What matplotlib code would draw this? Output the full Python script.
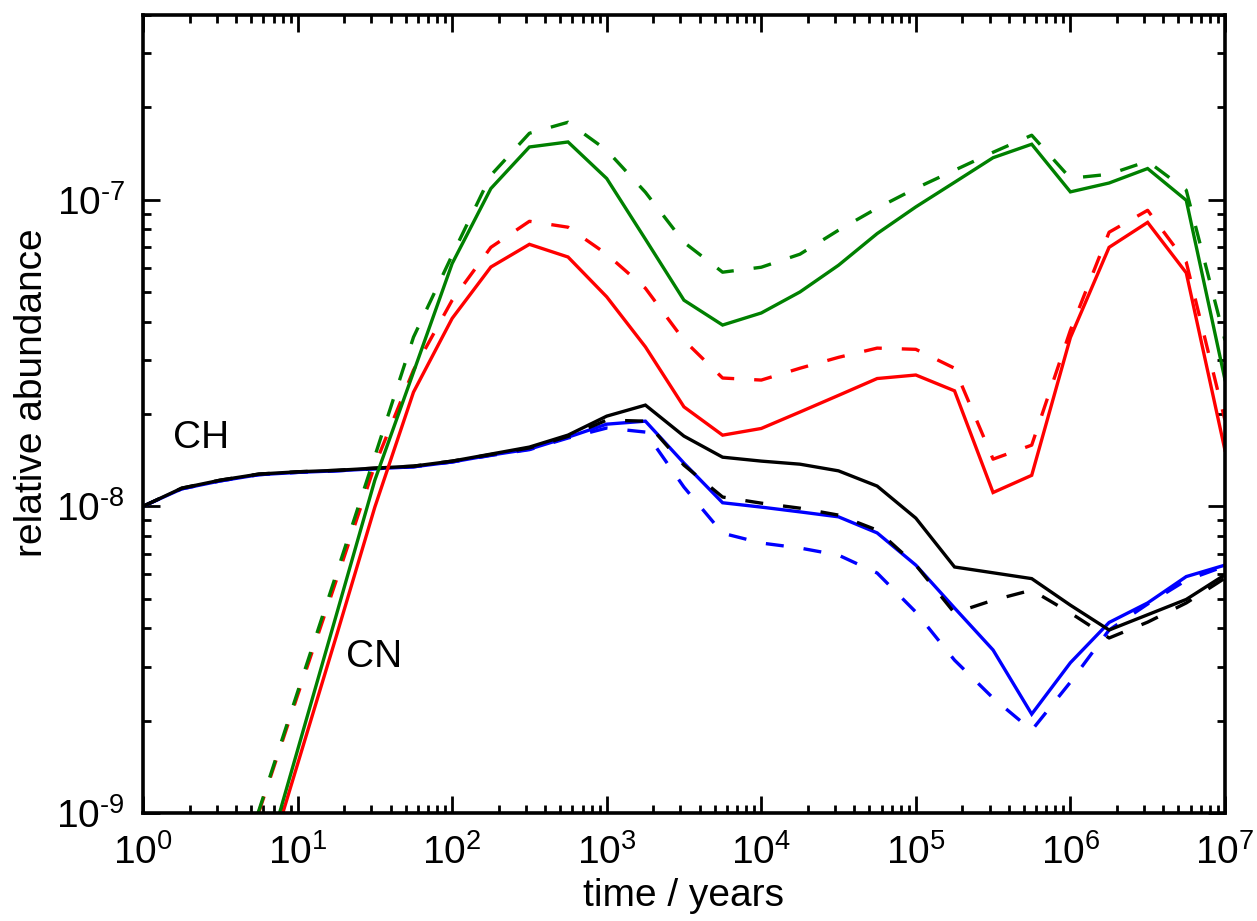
import matplotlib

matplotlib.use('Agg')
from matplotlib import pyplot as plt
from matplotlib.axes import Axes
from matplotlib.figure import Figure
from matplotlib.ticker import FuncFormatter, LogLocator, NullFormatter
import numpy as np

# time grid (years), quarter-decade steps
time: list[float] = [1.0, 1.78, 3.16, 5.62, 10.0, 17.8, 31.6, 56.2, 100.0, 178.0, 316.0, 562.0, 1.0e3, 1.78e3,
                     3.16e3, 5.62e3, 1.0e4, 1.78e4, 3.16e4, 5.62e4, 1.0e5, 1.78e5, 3.16e5, 5.62e5, 1.0e6, 1.78e6,
                     3.16e6, 5.62e6, 1.0e7]

# CH abundances
ch_black: list[float] = [1.00e-8, 1.146e-8, 1.217e-8, 1.274e-8, 1.296e-8, 1.31e-8, 1.332e-8, 1.352e-8, 1.404e-8,
                         1.48e-8, 1.56e-8, 1.707e-8, 1.968e-8, 2.138e-8, 1.694e-8, 1.446e-8, 1.404e-8, 1.372e-8,
                         1.305e-8, 1.164e-8, 9.15e-9, 6.34e-9, 6.07e-9, 5.81e-9, 4.76e-9, 3.95e-9, 4.43e-9, 4.97e-9,
                         5.98e-9]
ch_black_dash: list[float] = [1.00e-8, 1.146e-8, 1.217e-8, 1.274e-8, 1.296e-8, 1.31e-8, 1.332e-8, 1.352e-8,
                              1.404e-8, 1.475e-8, 1.55e-8, 1.69e-8, 1.91e-8, 1.895e-8, 1.362e-8, 1.072e-8, 1.024e-8,
                              9.86e-9, 9.36e-9, 8.36e-9, 6.43e-9, 4.49e-9, 4.94e-9, 5.33e-9, 4.49e-9, 3.72e-9,
                              4.19e-9, 4.84e-9, 5.83e-9]
ch_blue: list[float] = [1.00e-8, 1.14e-8, 1.21e-8, 1.268e-8, 1.29e-8, 1.305e-8, 1.326e-8, 1.345e-8, 1.395e-8,
                        1.469e-8, 1.536e-8, 1.68e-8, 1.853e-8, 1.895e-8, 1.383e-8, 1.027e-8, 9.94e-9, 9.59e-9,
                        9.24e-9, 8.19e-9, 6.43e-9, 4.66e-9, 3.40e-9, 2.10e-9, 3.09e-9, 4.18e-9, 4.84e-9, 5.90e-9,
                        6.43e-9]
ch_blue_dash: list[float] = [1.00e-8, 1.14e-8, 1.21e-8, 1.268e-8, 1.29e-8, 1.305e-8, 1.326e-8, 1.345e-8, 1.395e-8,
                             1.465e-8, 1.53e-8, 1.67e-8, 1.80e-8, 1.746e-8, 1.155e-8, 8.17e-9, 7.59e-9, 7.31e-9,
                             6.93e-9, 6.06e-9, 4.52e-9, 3.15e-9, 2.37e-9, 1.86e-9, 2.67e-9, 3.95e-9, 4.80e-9, 5.74e-9,
                             6.38e-9]

# CN abundances
cn_green: list[float] = [2.7e-11, 7.6e-11, 2.1e-10, 5.83e-10, 1.604e-9, 4.42e-9, 1.217e-8, 2.737e-8, 6.19e-8,
                         1.087e-7, 1.485e-7, 1.542e-7, 1.172e-7, 7.43e-8, 4.70e-8, 3.90e-8, 4.27e-8, 5.00e-8,
                         6.11e-8, 7.75e-8, 9.47e-8, 1.139e-7, 1.37e-7, 1.516e-7, 1.06e-7, 1.133e-7, 1.263e-7,
                         9.95e-8, 2.59e-8]
cn_green_dash: list[float] = [6e-11, 1.6e-10, 4.2e-10, 1.02e-9, 2.48e-9, 6.01e-9, 1.457e-8, 3.56e-8, 6.59e-8,
                              1.201e-7, 1.646e-7, 1.788e-7, 1.449e-7, 1.057e-7, 7.26e-8, 5.80e-8, 6.02e-8, 6.64e-8,
                              7.95e-8, 9.38e-8, 1.089e-7, 1.247e-7, 1.427e-7, 1.622e-7, 1.174e-7, 1.21e-7, 1.334e-7,
                              1.073e-7, 3.48e-8]
cn_red: list[float] = [2.5e-11, 7e-11, 2.0e-10, 5.53e-10, 1.444e-9, 3.77e-9, 9.94e-9, 2.356e-8, 4.10e-8, 6.03e-8,
                       7.15e-8, 6.50e-8, 4.82e-8, 3.31e-8, 2.11e-8, 1.706e-8, 1.794e-8, 2.03e-8, 2.30e-8, 2.61e-8,
                       2.68e-8, 2.38e-8, 1.109e-8, 1.262e-8, 3.55e-8, 6.99e-8, 8.43e-8, 5.77e-8, 1.525e-8]
cn_red_dash: list[float] = [6e-11, 1.6e-10, 4.1e-10, 1.008e-9, 2.42e-9, 5.74e-9, 1.362e-8, 2.78e-8, 4.70e-8,
                            6.99e-8, 8.50e-8, 8.13e-8, 6.64e-8, 5.14e-8, 3.48e-8, 2.62e-8, 2.58e-8, 2.82e-8, 3.06e-8,
                            3.28e-8, 3.25e-8, 2.82e-8, 1.425e-8, 1.583e-8, 3.75e-8, 7.83e-8, 9.23e-8, 6.25e-8,
                            1.91e-8]

plt.rcParams['font.family'] = ['Liberation Sans', 'DejaVu Sans']
plt.rcParams['mathtext.fontset'] = 'custom'
plt.rcParams['mathtext.rm'] = 'Liberation Sans'
plt.rcParams['mathtext.it'] = 'Liberation Sans:italic'
plt.rcParams['mathtext.bf'] = 'Liberation Sans:bold'

LW: float = 2.4
DASH: tuple[float, float] = (5.4, 6.0)


def power_label(value: float, pos: int) -> str:
    exponent: int = int(round(np.log10(value)))
    sign: str = '\u2010' if exponent < 0 else ''
    return f'$\\mathdefault{{10^{{{sign}{abs(exponent)}}}}}$'


fig: Figure = plt.figure(figsize=(12.57, 9.21), dpi=100)
ax: Axes = fig.add_axes((0.1138, 0.1173, 0.8607, 0.8664))

curves = [
    (ch_blue_dash, '#0000ff', True),
    (ch_blue, '#0000ff', False),
    (ch_black_dash, '#000000', True),
    (ch_black, '#000000', False),
    (cn_red_dash, '#ff0000', True),
    (cn_red, '#ff0000', False),
    (cn_green_dash, '#008000', True),
    (cn_green, '#008000', False),
]
for values, color, dashed in curves:
    line, = ax.plot(time, values, color=color, linewidth=LW, solid_joinstyle='miter')
    if dashed:
        line.set_dashes(DASH)

ax.set_xscale('log')
ax.set_yscale('log')
ax.set_xlim(1.0, 1.0e7)
ax.set_ylim(1.0e-9, 4.0e-7)

for axis in (ax.xaxis, ax.yaxis):
    axis.set_major_locator(LogLocator(base=10.0, numticks=20))
    axis.set_minor_locator(LogLocator(base=10.0, subs=tuple(range(2, 10)), numticks=20))
    axis.set_major_formatter(FuncFormatter(power_label))
    axis.set_minor_formatter(NullFormatter())

ax.tick_params(which='both', direction='in', top=True, right=True, width=2.0, colors='black')
ax.tick_params(which='major', length=12, labelsize=28)
ax.tick_params(which='minor', length=6)
ax.tick_params(axis='x', which='major', pad=15)
ax.tick_params(axis='y', which='major', pad=13)
for spine in ax.spines.values():
    spine.set_linewidth(2.6)

ax.set_xlabel('time / years', fontsize=28)
ax.set_ylabel('relative abundance', fontsize=28)
ax.xaxis.set_label_coords(0.5, -0.082)
ax.yaxis.set_label_coords(-0.086, 0.527)

ax.text(1.56, 1.67e-8, 'CH', fontsize=28, ha='left', va='center')
ax.text(20.5, 3.22e-9, 'CN', fontsize=28, ha='left', va='center')

fig.savefig('out.png', dpi=100)
